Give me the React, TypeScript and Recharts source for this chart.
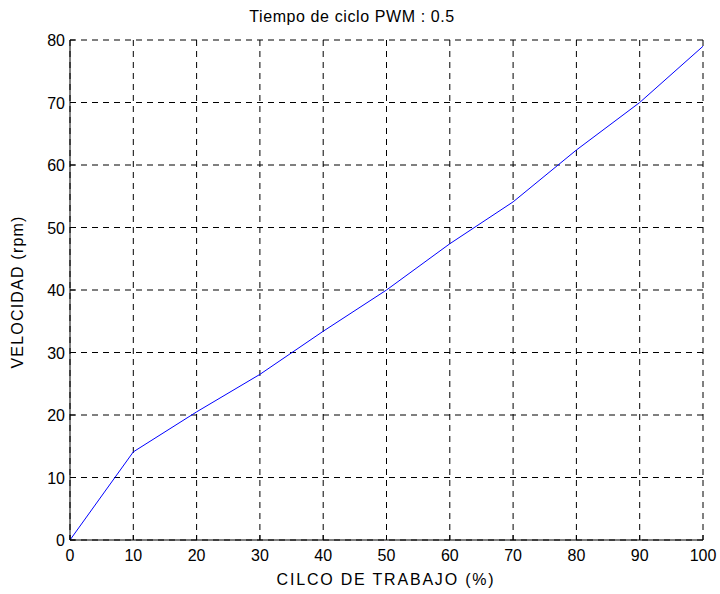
import { LineChart, Line, XAxis, YAxis, CartesianGrid } from "recharts";

const CICLO = [0, 10, 20, 30, 40, 50, 60, 70, 80, 90, 100];
const VELOCIDAD = [0, 14.1, 20.5, 26.5, 33.4, 40, 47.4, 54.1, 62.4, 70, 79];
const X_TICKS = [0, 10, 20, 30, 40, 50, 60, 70, 80, 90, 100];
const Y_TICKS = [0, 10, 20, 30, 40, 50, 60, 70, 80];

const data = CICLO.map((c, i) => ({ ciclo: c, vel: VELOCIDAD[i] }));

const FONT = "'Liberation Sans', Arial, sans-serif";

// MATLAB style: tick marks point into the plot
function BottomTick(props: any) {
  const { x, y, payload } = props;
  return (
    <g>
      <line x1={x} y1={y} x2={x} y2={y - 5} stroke="#000" />
      <text x={x} y={y + 21} textAnchor="middle" fontSize={16} fontFamily={FONT} fill="#000">
        {payload.value}
      </text>
    </g>
  );
}

function LeftTick(props: any) {
  const { x, y, payload } = props;
  return (
    <g>
      <line x1={x} y1={y} x2={x + 5} y2={y} stroke="#000" />
      <text x={x - 5} y={y + 6} textAnchor="end" fontSize={16} fontFamily={FONT} fill="#000">
        {payload.value}
      </text>
    </g>
  );
}

function TopTick(props: any) {
  const { x, y } = props;
  return <line x1={x} y1={y} x2={x} y2={y + 5} stroke="#000" />;
}

function RightTick(props: any) {
  const { x, y } = props;
  return <line x1={x} y1={y} x2={x - 5} y2={y} stroke="#000" />;
}

export default function App() {
  return (
    <div style={{ position: "absolute", left: 0, top: 0, width: 720, height: 594, background: "#fff" }}>
      <LineChart width={720} height={594} data={data} margin={{ top: 40, right: 17, bottom: 0, left: 0 }}>
        <CartesianGrid stroke="#000" strokeDasharray="6 5" horizontalValues={Y_TICKS} verticalValues={X_TICKS} />
        <XAxis
          dataKey="ciclo"
          type="number"
          domain={[0, 100]}
          ticks={X_TICKS}
          height={54}
          tickSize={0}
          tickMargin={0}
          tick={<BottomTick />}
          axisLine={{ stroke: "#000" }}
          tickLine={false}
        />
        <XAxis
          xAxisId="top"
          orientation="top"
          dataKey="ciclo"
          type="number"
          domain={[0, 100]}
          ticks={X_TICKS}
          height={0}
          tickSize={0}
          tickMargin={0}
          tick={<TopTick />}
          axisLine={{ stroke: "#000" }}
          tickLine={false}
        />
        <YAxis
          type="number"
          domain={[0, 80]}
          ticks={Y_TICKS}
          width={70}
          tickSize={0}
          tickMargin={0}
          tick={<LeftTick />}
          axisLine={{ stroke: "#000" }}
          tickLine={false}
        />
        <YAxis
          yAxisId="right"
          orientation="right"
          type="number"
          domain={[0, 80]}
          ticks={Y_TICKS}
          width={0}
          tickSize={0}
          tickMargin={0}
          tick={<RightTick />}
          axisLine={{ stroke: "#000" }}
          tickLine={false}
        />
        <Line
          type="linear"
          dataKey="vel"
          stroke="#0000ff"
          strokeWidth={1}
          dot={false}
          isAnimationActive={false}
        />
        <text x={352} y={22} textAnchor="middle" fontSize={16} letterSpacing={0.6} fontFamily={FONT} fill="#000">
          Tiempo de ciclo PWM : 0.5
        </text>
        <text x={386} y={585} textAnchor="middle" fontSize={16} letterSpacing={1.8} fontFamily={FONT} fill="#000">
          CILCO DE TRABAJO (%)
        </text>
        <text
          x={23}
          y={292}
          textAnchor="middle"
          fontSize={16}
          letterSpacing={1.2}
          fontFamily={FONT}
          fill="#000"
          transform="rotate(-90 23 292)"
        >
          VELOCIDAD (rpm)
        </text>
      </LineChart>
    </div>
  );
}
